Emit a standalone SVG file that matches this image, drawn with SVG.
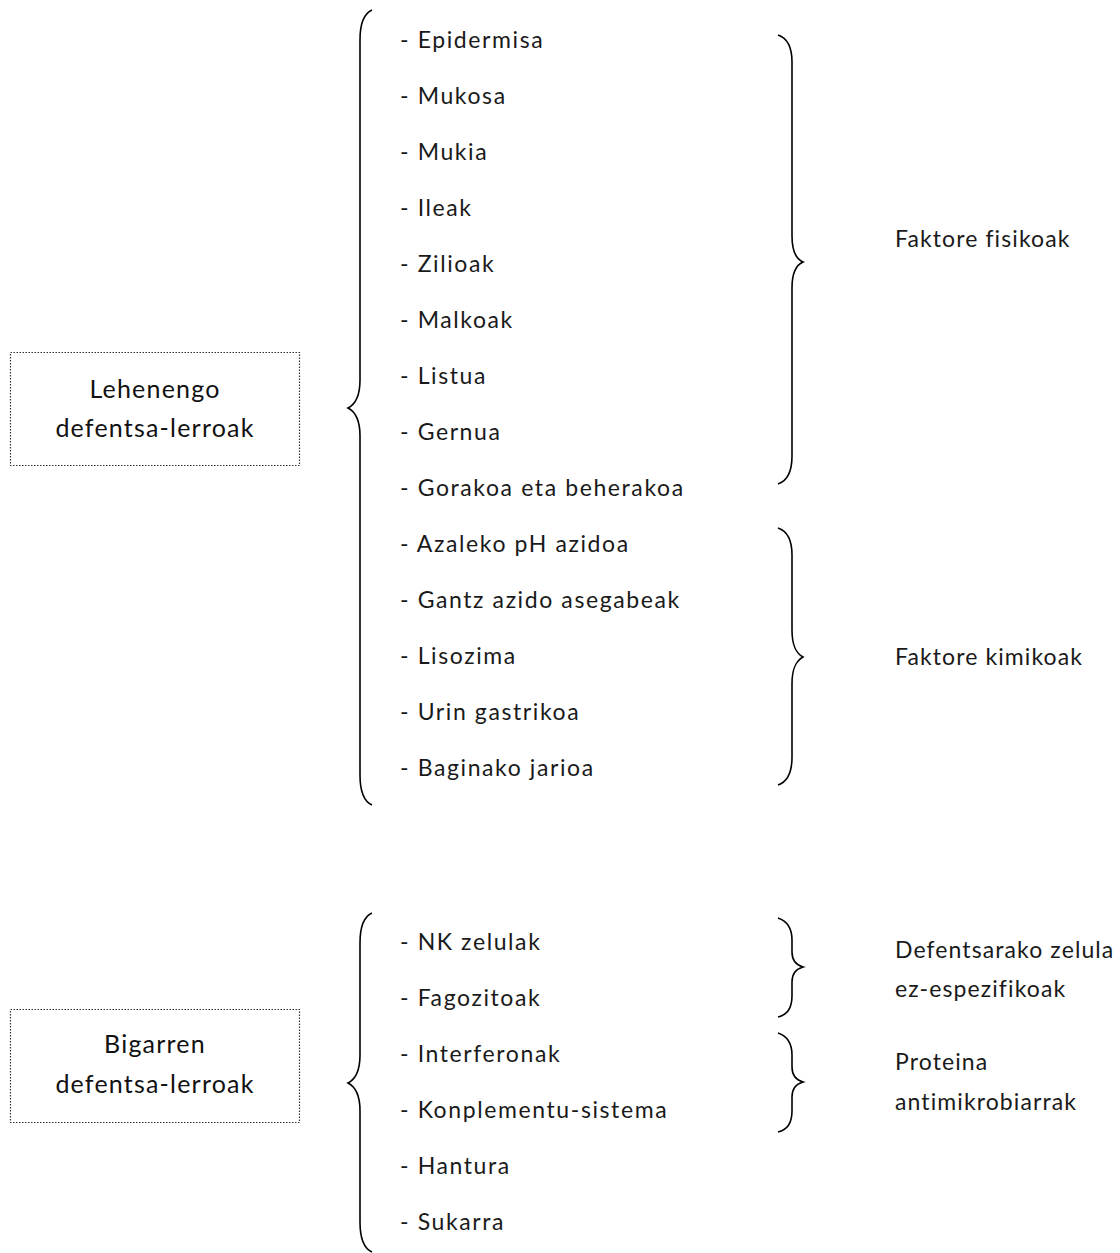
<svg xmlns="http://www.w3.org/2000/svg" width="1120" height="1253" viewBox="0 0 1120 1253">
  <style>
    .box { fill: #fff; stroke: #333; stroke-width: 1.2; stroke-dasharray: 1.5 1.5; }
    .title { font-family: Lato, "Liberation Sans", sans-serif; font-size: 25px; letter-spacing: 1.2px; fill: #111; text-anchor: middle; }
    .item { font-family: Lato, "Liberation Sans", sans-serif; font-size: 23px; letter-spacing: 1.6px; fill: #1a1a1a; }
    .label { font-family: Lato, "Liberation Sans", sans-serif; font-size: 23px; letter-spacing: 1.1px; fill: #1a1a1a; }
    .brace { fill: none; stroke: #000; stroke-width: 1.6; }
  </style>
  <rect width="1120" height="1253" fill="#fff"/>

  <!-- Braces -->
  <g id="connectors">
    <path class="brace" d="M372,10 C363,14 360,24 360,40 L360,380 C360,396 356,404 348,408 C356,412 360,420 360,436 L360,775 C360,791 363,801 372,805"/>
    <path class="brace" d="M372,913 C363,917 360,927 360,943 L360,1055 C360,1071 356,1079 348,1083 C356,1087 360,1095 360,1111 L360,1222 C360,1238 363,1248 372,1252"/>
    <path class="brace" d="M778,35 C787,38 792,46 792,62 L792,236 C792,252 796,259 803,262 C796,265 792,272 792,288 L792,456 C792,472 787,481 778,484"/>
    <path class="brace" d="M778,528 C787,531 792,539 792,555 L792,630 C792,646 796,653 803,657 C796,661 792,668 792,684 L792,757 C792,773 787,782 778,785"/>
    <path class="brace" d="M778,918 C787,921 792,927 792,940 L792,952 C792,961 796,965 803,967 C796,969 792,973 792,982 L792,996 C792,1009 787,1015 778,1017"/>
    <path class="brace" d="M778,1033 C787,1036 792,1042 792,1055 L792,1067 C792,1076 796,1080 803,1082 C796,1084 792,1088 792,1097 L792,1111 C792,1124 787,1130 778,1132"/>
  </g>

  <!-- First lines of defence -->
  <g id="lehenengo">
    <rect class="box" x="10.5" y="352.5" width="289" height="113"/>
    <text class="title" x="155" y="398">Lehenengo</text>
    <text class="title" x="155" y="437">defentsa-lerroak</text>
  </g>

  <g id="lehenengo-items">
    <text class="item" x="400" y="48">- Epidermisa</text>
    <text class="item" x="400" y="104">- Mukosa</text>
    <text class="item" x="400" y="160">- Mukia</text>
    <text class="item" x="400" y="216">- Ileak</text>
    <text class="item" x="400" y="272">- Zilioak</text>
    <text class="item" x="400" y="328">- Malkoak</text>
    <text class="item" x="400" y="384">- Listua</text>
    <text class="item" x="400" y="440">- Gernua</text>
    <text class="item" x="400" y="496">- Gorakoa eta beherakoa</text>
    <text class="item" x="400" y="552">- Azaleko pH azidoa</text>
    <text class="item" x="400" y="608">- Gantz azido asegabeak</text>
    <text class="item" x="400" y="664">- Lisozima</text>
    <text class="item" x="400" y="720">- Urin gastrikoa</text>
    <text class="item" x="400" y="776">- Baginako jarioa</text>
  </g>

  <g id="faktore-fisikoak">
    <text class="label" x="895" y="247">Faktore fisikoak</text>
  </g>
  <g id="faktore-kimikoak">
    <text class="label" x="895" y="665">Faktore kimikoak</text>
  </g>

  <!-- Second lines of defence -->
  <g id="bigarren">
    <rect class="box" x="10.5" y="1009.5" width="289" height="113"/>
    <text class="title" x="155" y="1053">Bigarren</text>
    <text class="title" x="155" y="1093">defentsa-lerroak</text>
  </g>

  <g id="bigarren-items">
    <text class="item" x="400" y="950">- NK zelulak</text>
    <text class="item" x="400" y="1006">- Fagozitoak</text>
    <text class="item" x="400" y="1062">- Interferonak</text>
    <text class="item" x="400" y="1118">- Konplementu-sistema</text>
    <text class="item" x="400" y="1174">- Hantura</text>
    <text class="item" x="400" y="1230">- Sukarra</text>
  </g>

  <g id="zelula-ez-espezifikoak">
    <text class="label" x="895" y="958">Defentsarako zelula</text>
    <text class="label" x="895" y="997">ez-espezifikoak</text>
  </g>
  <g id="proteina-antimikrobiarrak">
    <text class="label" x="895" y="1070">Proteina</text>
    <text class="label" x="895" y="1110">antimikrobiarrak</text>
  </g>
</svg>
